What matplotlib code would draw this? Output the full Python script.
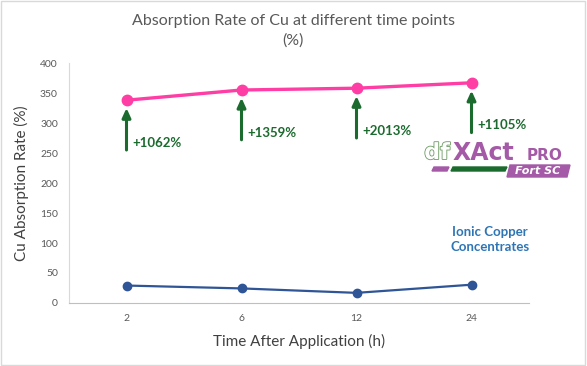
import matplotlib.pyplot as plt
import matplotlib.patheffects as pe
from matplotlib.patches import Rectangle, Polygon

plt.rcParams['font.family'] = ['Lato', 'DejaVu Sans']

# data
time_labels = ['2', '6', '12', '24']
xact_rate = [338, 355, 358, 367]
ionic_rate = [29.1, 24.3, 16.9, 30.5]
increase_labels = ['+1062%', '+1359%', '+2013%', '+1105%']

pink = '#FF3EA5'
blue = '#2F5597'
green = '#1B6B2E'
purple = '#A45AA6'
grey_txt = '#595959'

fig = plt.figure(figsize=(5.87, 3.66), dpi=100)
ax = fig.add_axes([69 / 587, 1 - 303 / 366, 460 / 587, 240 / 366])

x = list(range(len(time_labels)))
ax.plot(x, xact_rate, color=pink, lw=2.4, marker='o', ms=7.5, zorder=3)
ax.plot(x, ionic_rate, color=blue, lw=1.6, marker='o', ms=6, zorder=3)

# green arrows + increase labels under the pink points
for xi, v, lab in zip(x, xact_rate, increase_labels):
    head = v - 13
    tail = head - 70
    ax.annotate('', xy=(xi, head), xytext=(xi, tail),
                arrowprops=dict(arrowstyle='-|>,head_width=0.25,head_length=0.55',
                                color=green, lw=2.2, shrinkA=0, shrinkB=0))
    ax.text(xi + 0.05, tail + 12, lab, color=green, fontsize=9.5,
            fontweight='bold', ha='left', va='center')

ax.set_xlim(-0.5, 3.5)
ax.set_ylim(0, 400)
ax.set_yticks(range(0, 401, 50))
ax.set_xticks(x)
ax.set_xticklabels(time_labels)
ax.tick_params(length=0, labelsize=7.5, colors=grey_txt, pad=8)
for s in ['top', 'right']:
    ax.spines[s].set_visible(False)
ax.spines['left'].set_color('#d9d9d9')
ax.spines['bottom'].set_color('#bfbfbf')

ax.set_ylabel('Cu Absorption Rate (%)', fontsize=11, color='#404040', labelpad=8)
ax.set_xlabel('Time After Application (h)', fontsize=11, color='#404040', labelpad=8)

fig.text(293 / 587, 1 - 21 / 366, 'Absorption Rate of Cu at different time points',
         ha='center', va='center', fontsize=11.5, color=grey_txt)
fig.text(293 / 587, 1 - 41 / 366, '(%)', ha='center', va='center',
         fontsize=11.5, color=grey_txt)

# series labels
fig.text(490 / 587, 1 - 232 / 366, 'Ionic Copper', ha='center', va='center',
         fontsize=9.5, fontweight='bold', color='#2E75B6')
fig.text(490 / 587, 1 - 247 / 366, 'Concentrates', ha='center', va='center',
         fontsize=9.5, fontweight='bold', color='#2E75B6')


# logo approximation
def fx(px):
    return px / 587


def fy(py):
    return 1 - py / 366


t = fig.text(fx(437), fy(153), 'df', ha='center', va='center', fontsize=16,
             color='white', fontweight='bold', family='DejaVu Sans')
t.set_path_effects([pe.withStroke(linewidth=1.2, foreground='#6a9a60')])
fig.text(fx(483), fy(153), 'XAct', ha='center', va='center', fontsize=17,
         color=purple, fontweight='bold', family='DejaVu Sans')
fig.text(fx(545), fy(155), 'PRO', ha='center', va='center', fontsize=11,
         color=purple, fontweight='bold', family='DejaVu Sans')
fig.patches.append(Polygon([(fx(434), fy(167)), (fx(449), fy(167)), (fx(447), fy(171)), (fx(432), fy(171))],
                           closed=True, transform=fig.transFigure, color=purple))
fig.patches.append(Polygon([(fx(453), fy(167)), (fx(507), fy(167)), (fx(505), fy(171)), (fx(451), fy(171))],
                           closed=True, transform=fig.transFigure, color=green))
fig.patches.append(Polygon([(fx(510), fy(165)), (fx(570), fy(165)), (fx(567), fy(177)), (fx(507), fy(177))],
                           closed=True, transform=fig.transFigure, color=purple))
fig.text(fx(538), fy(171), 'Fort SC', ha='center', va='center', fontsize=8,
         color='white', fontweight='bold', style='italic', family='DejaVu Sans')

# outer border
fig.patches.append(Rectangle((0.002, 0.003), 0.995, 0.994, transform=fig.transFigure,
                             fill=False, ec='#d9d9d9', lw=1))

plt.savefig('out.png', dpi=100)
